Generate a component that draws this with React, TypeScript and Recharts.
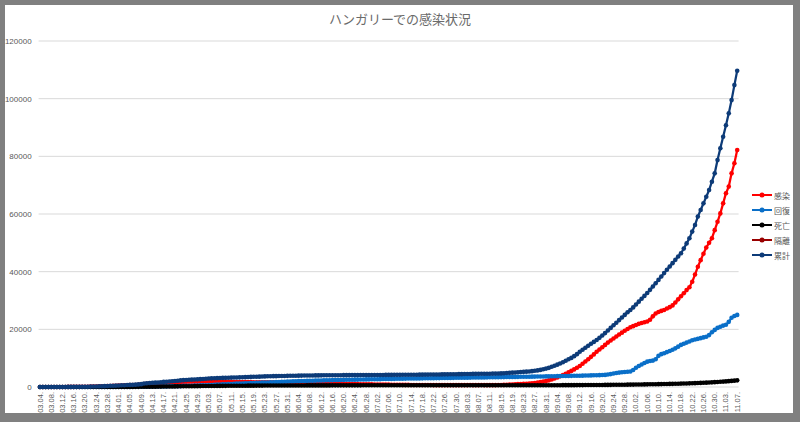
import { LineChart, Line, XAxis, YAxis, CartesianGrid, Legend } from "recharts";

// date span of the log: [month, first day, last day]
const MONTH_SPANS: [string, number, number][] = [
  ["03", 4, 31],
  ["04", 1, 30],
  ["05", 1, 31],
  ["06", 1, 30],
  ["07", 1, 31],
  ["08", 1, 31],
  ["09", 1, 30],
  ["10", 1, 31],
  ["11", 1, 7],
];
const DATES = MONTH_SPANS.flatMap(([m, a, b]) =>
  Array.from({ length: b - a + 1 }, (_, k) => `${m}.${String(a + k).padStart(2, "0")}.`)
);

const Y_TICKS = [0, 20000, 40000, 60000, 80000, 100000, 120000];

// 感染
const INFECTED = [
  2, 2, 4, 7, 7, 9, 9, 13, 16, 19, 29, 30, 37, 48, 55, 70, 80, 97, 120, 154, 162, 200, 235, 269, 311, 361, 400, 440,
  465, 521, 548, 593, 642, 640, 699, 760, 826, 1011, 1110, 1193, 1215, 1245, 1267, 1311, 1406, 1449, 1485, 1535, 1600, 1650, 1720, 1770, 1790, 1800, 1820, 1810, 1830, 1860,
  1857, 1903, 1934, 1942, 1934, 1887, 1860, 1843, 1798, 1782, 1790, 1750, 1719, 1701, 1696, 1685, 1685, 1675, 1666, 1634, 1634, 1624, 1616, 1624, 1621, 1592, 1564, 1539, 1510, 1484, 1460,
  1431, 1407, 1394, 1362, 1352, 1324, 1312, 1297, 1271, 1244, 1222, 1202, 1183, 1163, 1147, 1122, 1105, 1093, 1076, 1062, 1046, 1032, 1020, 1002, 983, 968, 950, 931, 915, 899,
  881, 869, 854, 844, 830, 818, 805, 789, 771, 759, 748, 732, 725, 715, 710, 706, 696, 687, 679, 676, 670, 666, 664, 661, 661, 659, 658, 654, 655, 654, 652,
  653, 657, 663, 668, 666, 665, 661, 668, 663, 661, 656, 661, 657, 669, 696, 736, 790, 840, 886, 939, 987, 1041, 1094, 1148, 1212, 1296, 1401, 1526, 1676, 1866, 2086,
  2300, 2620, 2950, 3320, 3720, 4150, 4600, 5080, 5580, 6100, 6680, 7300, 8050, 8850, 9650, 10450, 11300, 12200, 13000, 13800, 14600, 15400, 16150, 16800, 17500, 18200, 18850, 19500, 20100, 20700,
  21100, 21500, 21900, 22200, 22450, 22700, 23300, 24500, 25500, 26000, 26400, 26700, 27200, 27700, 28300, 29300, 30400, 31500, 32500, 33600, 34600, 36500, 39000, 41700, 44000, 46200, 48400, 50000, 51600, 54400, 57300,
  60200, 63700, 67200, 69500, 74100, 77600, 82200,
];

// 回復
const RECOVERED = [
  0, 0, 0, 0, 0, 0, 0, 0, 0, 0, 1, 1, 1, 1, 2, 2, 2, 2, 7, 7, 16, 16, 16, 21, 21, 34, 34, 37,
  44, 44, 49, 53, 57, 66, 71, 77, 88, 102, 115, 118, 134, 145, 178, 199, 201, 213, 242, 250, 250, 274, 292, 391, 408, 449, 458, 478, 519, 550,
  595, 625, 668, 705, 738, 816, 868, 915, 975, 1018, 1052, 1104, 1158, 1198, 1236, 1281, 1326, 1364, 1393, 1444, 1480, 1526, 1563, 1584, 1611, 1653, 1690, 1730, 1780, 1830, 1880,
  1915, 1950, 1990, 2030, 2060, 2100, 2130, 2160, 2190, 2220, 2250, 2280, 2310, 2340, 2360, 2390, 2410, 2430, 2450, 2470, 2490, 2510, 2530, 2550, 2570, 2590, 2610, 2630, 2650, 2670,
  2690, 2710, 2730, 2750, 2770, 2790, 2810, 2830, 2850, 2870, 2890, 2910, 2930, 2945, 2960, 2975, 2990, 3005, 3020, 3035, 3050, 3065, 3080, 3095, 3110, 3125, 3140, 3155, 3170, 3185, 3200,
  3215, 3230, 3245, 3260, 3275, 3290, 3305, 3320, 3335, 3350, 3365, 3380, 3395, 3410, 3425, 3440, 3455, 3470, 3485, 3500, 3515, 3530, 3545, 3560, 3575, 3590, 3605, 3620, 3640, 3660, 3680,
  3700, 3720, 3740, 3760, 3780, 3800, 3820, 3840, 3860, 3880, 3900, 3920, 3945, 3970, 3995, 4020, 4050, 4080, 4110, 4150, 4200, 4320, 4480, 4660, 4840, 5000, 5120, 5220, 5300, 5400,
  5900, 6700, 7300, 7800, 8300, 8800, 9000, 9150, 9600, 10800, 11400, 11700, 12100, 12500, 12900, 13400, 14000, 14600, 15000, 15400, 15800, 16200, 16450, 16700, 16950, 17200, 17450, 18000, 19000, 19800, 20500,
  20900, 21300, 21600, 22600, 24000, 24600, 25000,
];

// 死亡
const DEATHS = [
  0, 0, 0, 0, 0, 0, 0, 0, 0, 0, 0, 1, 1, 1, 1, 1, 3, 4, 4, 6, 9, 10, 10, 10, 11, 13, 13, 15,
  16, 20, 26, 32, 34, 38, 47, 58, 66, 77, 85, 99, 109, 122, 134, 142, 156, 172, 189, 199, 213, 225, 239, 250, 262, 272, 280, 291, 300, 312,
  323, 335, 340, 351, 363, 373, 383, 392, 405, 413, 421, 430, 436, 442, 448, 451, 462, 470, 476, 478, 484, 491, 499, 505, 509, 511, 517, 524, 526, 527, 527,
  530, 535, 537, 539, 542, 546, 548, 551, 553, 553, 555, 557, 560, 561, 562, 565, 566, 567, 568, 570, 571, 572, 573, 575, 577, 580, 582, 584, 585, 586,
  586, 587, 588, 589, 589, 589, 590, 591, 591, 591, 591, 592, 592, 593, 593, 593, 593, 594, 594, 594, 595, 595, 595, 595, 595, 596, 596, 596, 596, 596, 596,
  597, 597, 597, 598, 598, 598, 598, 599, 599, 600, 600, 601, 601, 602, 602, 604, 605, 606, 606, 607, 608, 609, 611, 612, 613, 614, 614, 614, 614, 614, 614,
  618, 622, 624, 627, 630, 634, 638, 642, 646, 650, 655, 660, 666, 672, 678, 685, 692, 700, 708, 716, 725, 735, 745, 755, 765, 776, 787, 798, 811, 825,
  838, 852, 866, 881, 897, 913, 930, 947, 965, 984, 1004, 1025, 1047, 1070, 1094, 1119, 1146, 1174, 1204, 1235, 1268, 1303, 1340, 1380, 1422, 1467, 1515, 1566, 1620, 1677, 1738,
  1800, 1870, 1945, 2025, 2110, 2200, 2300,
];

// 隔離 - nothing of it shows in the picture
const ISOLATED: number[] = [];

// 累計
const TOTAL = [
  2, 2, 4, 7, 7, 9, 9, 13, 16, 19, 30, 32, 39, 50, 58, 73, 85, 103, 131, 167, 187, 226, 261, 300, 343, 408, 447, 492,
  525, 585, 623, 678, 733, 744, 817, 895, 980, 1190, 1310, 1410, 1458, 1512, 1579, 1652, 1763, 1834, 1916, 1984, 2098, 2168, 2284, 2383, 2443, 2500, 2559, 2583, 2649, 2727,
  2775, 2863, 2942, 2998, 3035, 3076, 3111, 3150, 3178, 3213, 3263, 3284, 3313, 3341, 3380, 3417, 3473, 3509, 3535, 3556, 3598, 3641, 3678, 3713, 3741, 3756, 3771, 3793, 3816, 3841, 3867,
  3876, 3892, 3921, 3931, 3954, 3970, 3990, 4008, 4014, 4017, 4027, 4039, 4053, 4064, 4069, 4077, 4081, 4090, 4094, 4102, 4107, 4114, 4123, 4127, 4130, 4138, 4142, 4145, 4150, 4155,
  4157, 4166, 4172, 4183, 4189, 4197, 4205, 4210, 4212, 4220, 4229, 4234, 4247, 4253, 4263, 4274, 4279, 4286, 4293, 4305, 4315, 4326, 4339, 4351, 4366, 4380, 4394, 4405, 4421, 4435, 4448,
  4465, 4484, 4505, 4526, 4539, 4553, 4564, 4587, 4597, 4611, 4621, 4642, 4653, 4681, 4723, 4780, 4850, 4916, 4977, 5046, 5110, 5180, 5250, 5320, 5400, 5500, 5620, 5760, 5930, 6140, 6380,
  6650, 7000, 7350, 7750, 8150, 8600, 9100, 9600, 10100, 10700, 11400, 12200, 12900, 13600, 14300, 15000, 15650, 16300, 17050, 17850, 18700, 19600, 20500, 21400, 22300, 23200, 24100, 25000, 25900, 26700,
  27600, 28600, 29600, 30600, 31600, 32600, 33700, 34850, 36000, 37150, 38300, 39500, 40650, 41800, 42950, 44100, 45250, 46400, 48000, 49800, 51600, 53900, 56200, 59100, 61400, 63700, 66000, 68300, 71200, 74100, 78700,
  82800, 86800, 90800, 94900, 99500, 104700, 109700,
];

const rows = DATES.map((date, i) => ({
  date,
  infected: INFECTED[i],
  recovered: RECOVERED[i],
  deaths: DEATHS[i],
  isolated: ISOLATED[i] ?? null,
  total: TOTAL[i],
}));

const SERIES = [
  { key: "infected", name: "感染", color: "#ff0000" },
  { key: "recovered", name: "回復", color: "#0a6fc8" },
  { key: "deaths", name: "死亡", color: "#000000" },
  { key: "isolated", name: "隔離", color: "#990000" },
  { key: "total", name: "累計", color: "#0d3b78" },
];

const TEXT = "#595959";

function DateTick({ x, y, payload }: { x?: number; y?: number; payload?: { value: string } }) {
  return (
    <text
      x={x}
      y={y}
      transform={`rotate(-90, ${x}, ${y})`}
      textAnchor="end"
      dominantBaseline="central"
      fontSize={7.5}
      fill={TEXT}
    >
      {payload?.value}
    </text>
  );
}

// legend keeps the series order (Recharts would sort it by name)
function LegendBox() {
  return (
    <div style={{ fontSize: 8, color: TEXT }}>
      {SERIES.map((s) => (
        <div key={s.key} style={{ height: 15, display: "flex", alignItems: "center" }}>
          <svg width={20} height={6}>
            <line x1={0} y1={3} x2={20} y2={3} stroke={s.color} strokeWidth={2} />
            <circle cx={10} cy={3} r={2.5} fill={s.color} />
          </svg>
          <span style={{ marginLeft: 2, whiteSpace: "nowrap" }}>{s.name}</span>
        </div>
      ))}
    </div>
  );
}

export default function App() {
  return (
    <div style={{ position: "absolute", left: 0, top: 0, width: 800, height: 422, background: "#808080" }}>
      <div
        style={{
          position: "absolute",
          left: 5,
          top: 5,
          width: 788,
          height: 408,
          background: "#fff",
          overflow: "hidden",
        }}
      >
        <div
          style={{
            position: "absolute",
            left: -5,
            top: -5,
            width: 800,
            height: 422,
            fontFamily: "'Liberation Sans', 'Noto Sans CJK JP', sans-serif",
          }}
        >
          <div
            style={{
              position: "absolute",
              top: 12,
              left: 0,
              width: 800,
              textAlign: "center",
              fontSize: 13,
              lineHeight: "14px",
              color: "#6a6a6a",
              fontFamily: "'Noto Sans CJK JP', sans-serif",
            }}
          >
            ハンガリーでの感染状況
          </div>
          <LineChart width={800} height={422} data={rows} margin={{ top: 41, right: 61.4, bottom: 0, left: 0 }}>
            <CartesianGrid vertical={false} stroke="#d9d9d9" />
            <XAxis
              dataKey="date"
              interval={3}
              height={35}
              tickLine={false}
              axisLine={false}
              tickSize={5}
              tickMargin={0}
              padding={{ left: 1.4, right: 1.4 }}
              tick={<DateTick />}
            />
            <YAxis
              width={38.6}
              domain={[0, 120000]}
              ticks={Y_TICKS}
              tickLine={false}
              axisLine={false}
              tickSize={6}
              tickMargin={1}
              tick={{ fill: TEXT, fontSize: 8 }}
            />
            <Legend
              layout="vertical"
              align="center"
              verticalAlign="middle"
              wrapperStyle={{ left: 752, top: 187.5, width: 50 }}
              content={<LegendBox />}
            />
            {SERIES.map((s) => (
              <Line
                key={s.key}
                dataKey={s.key}
                name={s.name}
                stroke={s.color}
                strokeWidth={2.25}
                dot={{ r: 2.3, fill: s.color, stroke: s.color, strokeWidth: 0 }}
                activeDot={false}
                isAnimationActive={false}
              />
            ))}
          </LineChart>
        </div>
      </div>
    </div>
  );
}
